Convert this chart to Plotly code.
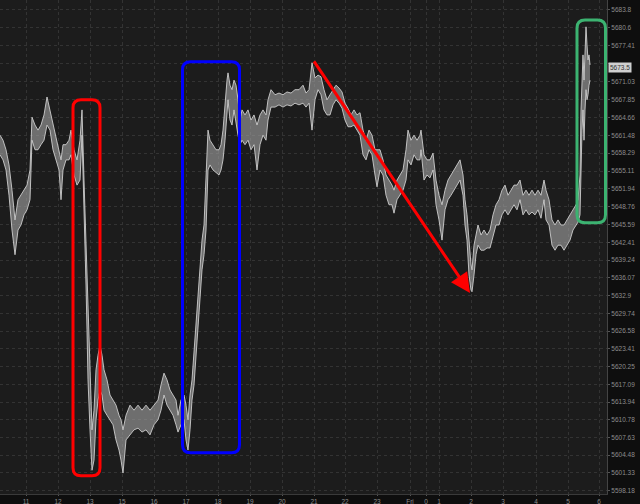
import plotly.graph_objects as go

# ---- data (bar index, high, low) ----
bar_x = [0, 3, 6, 9, 12, 15, 18, 21, 24, 27, 30, 32, 35, 38, 41, 44, 47, 50, 53, 56, 59, 61, 63, 66, 69, 71, 74, 77, 80, 82,
         84, 85, 86, 87, 88, 90, 92, 94, 96, 98, 100, 102, 104, 107, 110, 113, 116, 119, 121, 123, 126, 130, 134, 138, 142,
         146, 150, 154, 158, 161, 164, 167, 170, 173, 176, 178, 181, 184, 186, 188, 190, 192, 194, 196, 198, 200, 202, 204,
         206, 208, 210, 213, 216, 219, 221, 223, 225, 227, 228, 230, 232, 234, 236, 238, 240, 242, 245, 248, 251, 254, 257,
         260, 263, 266, 268, 271, 275, 279, 283, 287, 291, 295, 299, 303, 306, 309, 312, 315, 318, 321, 324, 327, 330, 333,
         336, 339, 342, 345, 348, 351, 354, 357, 360, 363, 366, 369, 372, 375, 377, 380, 383, 386, 389, 392, 394, 397, 400,
         403, 406, 408, 411, 414, 417, 420, 421, 424, 427, 430, 433, 436, 439, 442, 445, 448, 451, 454, 457, 460, 463, 465,
         467, 469, 471, 472, 474, 476, 478, 481, 484, 487, 490, 493, 496, 499, 502, 505, 508, 511, 514, 517, 520, 523, 526,
         529, 532, 535, 538, 541, 544, 546, 549, 552, 555, 558, 561, 564, 567, 570, 573, 576, 578, 580, 581, 582, 583, 584,
         585, 586, 587, 588, 589, 590]
bar_high = [5661.5, 5660.6, 5658.9, 5656.2, 5651.7, 5646.4, 5650.0, 5650.8, 5651.7, 5652.6, 5655.3, 5664.7, 5663.3, 5662.4,
            5663.3, 5665.1, 5668.3, 5666.0, 5663.3, 5661.5, 5658.9, 5657.1, 5659.8, 5659.8, 5660.6, 5662.4, 5658.9, 5657.1,
            5660.6, 5666.0, 5653.5, 5648.2, 5641.0, 5635.7, 5628.6, 5617.9, 5609.0, 5612.5, 5619.7, 5622.3, 5624.1, 5622.3,
            5619.7, 5617.9, 5615.2, 5614.3, 5613.4, 5611.6, 5610.8, 5609.0, 5611.6, 5613.4, 5612.5, 5613.4, 5612.5, 5613.4,
            5612.5, 5613.4, 5614.3, 5617.0, 5619.1, 5617.9, 5616.1, 5615.2, 5614.3, 5611.6, 5614.3, 5615.2, 5613.4, 5610.8,
            5615.2, 5617.9, 5623.2, 5628.6, 5633.9, 5639.3, 5642.8, 5645.5, 5655.3, 5662.4, 5660.6, 5659.8, 5658.9, 5658.9,
            5659.8, 5662.4, 5667.8, 5671.3, 5672.6, 5670.4, 5669.6, 5671.3, 5670.4, 5667.8, 5664.2, 5666.0, 5665.1, 5666.0,
            5664.2, 5665.1, 5663.3, 5665.1, 5666.0, 5665.1, 5667.8, 5669.6, 5668.7, 5669.0, 5668.7, 5669.2, 5669.0, 5669.6,
            5669.6, 5670.4, 5669.0, 5669.6, 5674.4, 5671.7, 5672.2, 5671.9, 5669.6, 5667.8, 5668.7, 5669.6, 5670.4, 5669.9,
            5669.2, 5667.2, 5666.3, 5665.1, 5666.0, 5665.1, 5665.5, 5662.4, 5660.6, 5662.4, 5661.5, 5658.9, 5658.9, 5658.9,
            5657.1, 5654.4, 5653.5, 5652.6, 5651.7, 5653.5, 5654.4, 5655.3, 5658.9, 5662.4, 5660.6, 5661.5, 5660.6, 5661.5,
            5662.4, 5658.0, 5657.1, 5657.1, 5658.3, 5653.5, 5650.8, 5649.1, 5651.7, 5653.5, 5654.4, 5655.3, 5656.2, 5657.1,
            5654.4, 5650.0, 5647.3, 5641.9, 5638.4, 5637.5, 5641.9, 5643.7, 5645.5, 5643.7, 5644.6, 5643.7, 5644.6, 5647.3,
            5649.1, 5650.0, 5651.7, 5652.6, 5650.8, 5651.7, 5652.6, 5652.6, 5653.5, 5650.8, 5651.7, 5650.8, 5651.7, 5650.8,
            5651.7, 5650.8, 5653.5, 5651.7, 5650.0, 5646.4, 5645.5, 5646.4, 5645.5, 5645.5, 5646.4, 5647.3, 5648.2, 5649.1,
            5650.0, 5654.4, 5666.0, 5673.1, 5675.8, 5671.3, 5678.5, 5680.8, 5677.6, 5674.9, 5675.8, 5674.0]
bar_low = [5658.0, 5657.1, 5655.3, 5650.8, 5644.6, 5640.2, 5644.6, 5645.5, 5647.3, 5648.2, 5650.0, 5660.6, 5658.9, 5658.9,
           5659.8, 5660.6, 5663.3, 5662.4, 5658.9, 5657.1, 5655.3, 5650.0, 5655.3, 5657.1, 5657.1, 5658.0, 5654.4, 5652.6,
           5653.5, 5661.5, 5650.0, 5641.0, 5634.8, 5626.8, 5617.9, 5609.0, 5601.8, 5603.6, 5610.8, 5614.3, 5616.1, 5615.2,
           5612.5, 5611.6, 5610.8, 5609.9, 5607.2, 5605.4, 5603.6, 5601.3, 5607.2, 5608.1, 5609.0, 5609.3, 5608.6, 5609.0,
           5608.1, 5609.9, 5610.8, 5612.5, 5615.2, 5613.4, 5612.5, 5611.6, 5609.9, 5608.6, 5609.9, 5610.8, 5607.2, 5605.4,
           5609.0, 5614.3, 5617.0, 5622.3, 5626.8, 5632.1, 5637.5, 5640.2, 5644.6, 5655.3, 5656.2, 5655.3, 5654.9, 5654.4,
           5655.3, 5657.1, 5660.6, 5665.1, 5667.8, 5664.2, 5663.3, 5666.0, 5663.3, 5661.5, 5659.8, 5660.6, 5659.8, 5660.6,
           5658.9, 5659.8, 5655.3, 5659.8, 5661.5, 5660.6, 5664.2, 5666.5, 5666.5, 5666.9, 5666.5, 5666.9, 5666.7, 5667.2,
           5666.9, 5667.2, 5666.5, 5667.2, 5662.4, 5667.8, 5669.6, 5668.7, 5666.0, 5665.1, 5665.1, 5666.9, 5667.8, 5667.2,
           5666.3, 5664.2, 5663.0, 5663.0, 5663.3, 5662.4, 5661.5, 5658.0, 5657.1, 5658.9, 5658.0, 5654.4, 5652.3, 5655.3,
           5654.4, 5650.8, 5649.1, 5649.1, 5647.6, 5650.0, 5650.8, 5651.7, 5653.5, 5657.1, 5656.2, 5658.0, 5657.1, 5657.1,
           5658.9, 5653.5, 5654.4, 5653.9, 5655.3, 5649.1, 5646.4, 5642.8, 5648.2, 5650.0, 5650.8, 5651.7, 5652.6, 5653.5,
           5650.8, 5645.5, 5642.8, 5636.6, 5633.9, 5633.6, 5636.6, 5640.2, 5641.9, 5641.0, 5641.0, 5641.4, 5641.4, 5643.7,
           5645.5, 5645.5, 5647.3, 5648.2, 5647.3, 5648.2, 5649.1, 5648.2, 5650.0, 5647.3, 5648.2, 5647.3, 5647.8, 5647.3,
           5648.2, 5646.7, 5650.0, 5646.4, 5645.5, 5641.9, 5641.0, 5641.9, 5641.9, 5641.0, 5641.9, 5642.8, 5644.6, 5645.5,
           5646.0, 5647.3, 5657.1, 5662.4, 5666.0, 5660.6, 5666.0, 5669.6, 5667.8, 5668.7, 5670.4, 5671.3]
last_price = 5673.5

# axis ticks
price_ticks = [5683.8, 5680.6, 5677.41, 5674.22, 5671.03, 5667.85, 5664.66, 5661.48, 5658.29, 5655.11, 5651.94, 5648.76,
               5645.59, 5642.41, 5639.24, 5636.07, 5632.9, 5629.74, 5626.58, 5623.41, 5620.25, 5617.09, 5613.94, 5610.78,
               5607.63, 5604.48, 5601.33, 5598.18]
price_tick_text = [("" if v == 5674.22 else f"{v:g}") for v in price_ticks]
time_ticks = [26, 58, 90, 122, 154, 186, 218, 250, 282, 314, 345, 377, 410, 426, 439, 471, 503, 536, 568, 599]
time_labels = ["11", "12", "13", "15", "16", "17", "18", "19", "20", "21", "22", "23", "Fri", "0", "1", "2", "3", "4",
               "5", "6"]

# highlighted regions (bar index range, price range)
boxes = [
    dict(x0=73, x1=100, y0=5600.8, y1=5667.8, color="#ff0000"),
    dict(x0=182.5, x1=239.5, y0=5604.9, y1=5674.6, color="#0000ff"),
    dict(x0=577, x1=605.5, y0=5645.9, y1=5682.0, color="#3cb371"),
]
arrow_start = (313, 5674.9)
arrow_end = (470, 5633.4)

X_RANGE = [0, 607]
Y_RANGE = [5597.57, 5685.58]

fig = go.Figure()

# band between low and high
fig.add_trace(go.Scatter(x=bar_x, y=bar_high, mode="lines", line=dict(width=1, color="rgba(205,205,205,0.9)"),
                         hoverinfo="skip", showlegend=False))
fig.add_trace(go.Scatter(x=bar_x, y=bar_low, mode="lines", line=dict(width=1, color="rgba(205,205,205,0.9)"),
                         fill="tonexty", fillcolor="rgba(165,165,165,0.6)", hoverinfo="skip", showlegend=False))

# rounded rectangles
rx = 8.0
ry = 8.0 * (Y_RANGE[1] - Y_RANGE[0]) / 494.0
shapes = []
for b in boxes:
    x0, x1, y0, y1 = b["x0"], b["x1"], b["y0"], b["y1"]
    path = (f"M {x0 + rx},{y1} L {x1 - rx},{y1} Q {x1},{y1} {x1},{y1 - ry} "
            f"L {x1},{y0 + ry} Q {x1},{y0} {x1 - rx},{y0} "
            f"L {x0 + rx},{y0} Q {x0},{y0} {x0},{y0 + ry} "
            f"L {x0},{y1 - ry} Q {x0},{y1} {x0 + rx},{y1} Z")
    shapes.append(dict(type="path", path=path, xref="x", yref="y", line=dict(color=b["color"], width=3)))

annotations = [
    dict(x=arrow_end[0], y=arrow_end[1], ax=arrow_start[0], ay=arrow_start[1], xref="x", yref="y",
         axref="x", ayref="y", showarrow=True, arrowhead=2, arrowsize=1.3, arrowwidth=3, arrowcolor="#ff0000",
         text=""),
    dict(x=1, xref="paper", y=last_price, yref="y", text=f"{last_price}", showarrow=False, xanchor="left",
         xshift=1, bgcolor="#d0d0d0", font=dict(color="#333333", size=6.5, family="Liberation Sans"), borderpad=1),
]

fig.update_layout(
    width=640, height=504,
    margin=dict(l=0, r=33, t=0, b=10, autoexpand=False),
    paper_bgcolor="#0e0e0e",
    plot_bgcolor="#1c1c1c",
    shapes=shapes,
    annotations=annotations,
    showlegend=False,
    font=dict(family="Liberation Sans", size=6.5, color="#8c8c8c"),
)
fig.update_xaxes(range=X_RANGE, tickmode="array", tickvals=time_ticks, ticktext=time_labels,
                 showgrid=True, gridcolor="#333333", griddash="dot", gridwidth=1, zeroline=False,
                 showline=True, linecolor="#3a3a3a", ticks="outside", ticklen=1, tickcolor="#555555",
                 tickfont=dict(size=6.5, color="#8c8c8c"), fixedrange=True, automargin=False)
fig.update_yaxes(range=Y_RANGE, side="right", tickmode="array", tickvals=price_ticks, ticktext=price_tick_text,
                 showgrid=True, gridcolor="#333333", griddash="dot", gridwidth=1, zeroline=False,
                 showline=True, linecolor="#444444", ticks="outside", ticklen=2, tickcolor="#555555",
                 tickfont=dict(size=6.5, color="#8c8c8c"), fixedrange=True, automargin=False)

fig.write_html("out.html", config={"displayModeBar": False},
               post_script="document.body.style.margin='0';document.body.style.background='#0e0e0e';")
